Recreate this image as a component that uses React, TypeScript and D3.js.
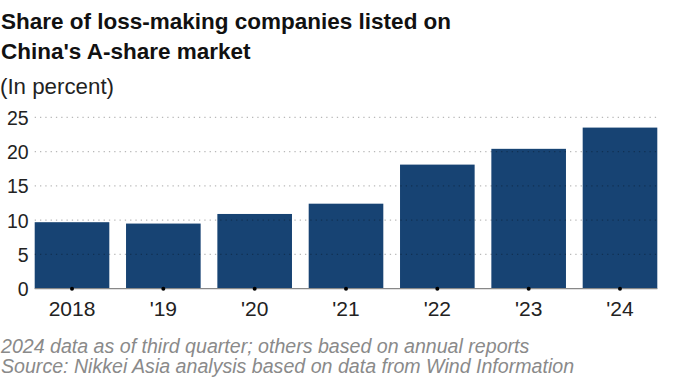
import React from "react";
import * as d3 from "d3";

const categories: string[] = ["2018", "'19", "'20", "'21", "'22", "'23", "'24"];
const shareValues: number[] = [9.7, 9.5, 10.9, 12.4, 18.1, 20.4, 23.5];
const yTicks: number[] = [0, 5, 10, 15, 20, 25];

const titleLines: string[] = ["Share of loss-making companies listed on", "China's A-share market"];
const unitLabel = "(In percent)";
const notes: string[] = [
  "2024 data as of third quarter; others based on annual reports",
  "Source: Nikkei Asia analysis based on data from Wind Information",
];

const W = 680;
const H = 377;
const FONT = "'Liberation Sans', Arial, Helvetica, sans-serif";

export default function App() {
  const x = d3
    .scaleBand<string>()
    .domain(categories)
    .range([34.7, 657.3])
    .paddingInner(0.183)
    .paddingOuter(0);
  const y = d3.scaleLinear().domain([0, 25]).range([288.7, 117.3]);

  return (
    <div style={{ position: "fixed", left: 0, top: 0 }}>
      <svg width={W} height={H} style={{ display: "block", background: "#fff" }}>
        {titleLines.map((t, i) => (
          <text key={t} x={1} y={29.3 + i * 29.4} fontFamily={FONT} fontWeight="bold" fontSize={22.5} fill="#111">
            {t}
          </text>
        ))}
        <text x={0} y={94} fontFamily={FONT} fontSize={22.3} fill="#222">
          {unitLabel}
        </text>

        {shareValues.map((v, i) => (
          <rect
            key={categories[i]}
            x={x(categories[i])}
            y={y(v)}
            width={x.bandwidth()}
            height={y(0) - y(v)}
            fill="#174373"
          />
        ))}

        {yTicks.map((t) => (
          <g key={t}>
            {t > 0 && (
              <line
                x1={34.7}
                x2={657.3}
                y1={y(t)}
                y2={y(t)}
                stroke="#000"
                strokeOpacity={0.28}
                strokeWidth={1.3}
                strokeDasharray="1.3 4"
              />
            )}
            <text
              x={28.7}
              y={y(t)}
              dy="0.38em"
              textAnchor="end"
              fontFamily={FONT}
              fontSize={19.5}
              fill="#222"
            >
              {t}
            </text>
          </g>
        ))}

        <line x1={34.7} x2={657.3} y1={y(0)} y2={y(0)} stroke="#888" strokeWidth={1.2} />

        {categories.map((c) => {
          const cx = (x(c) as number) + x.bandwidth() / 2;
          return (
            <g key={c}>
              <circle cx={cx} cy={y(0)} r={2} fill="#000" />
              <text x={cx} y={315.5} textAnchor="middle" fontFamily={FONT} fontSize={21} fill="#222">
                {c}
              </text>
            </g>
          );
        })}

        {notes.map((n, i) => (
          <text
            key={n}
            x={1}
            y={352.5 + i * 20.5}
            fontFamily={FONT}
            fontStyle="italic"
            fontSize={19.6}
            fill="#8a8a8a"
          >
            {n}
          </text>
        ))}
      </svg>
    </div>
  );
}
